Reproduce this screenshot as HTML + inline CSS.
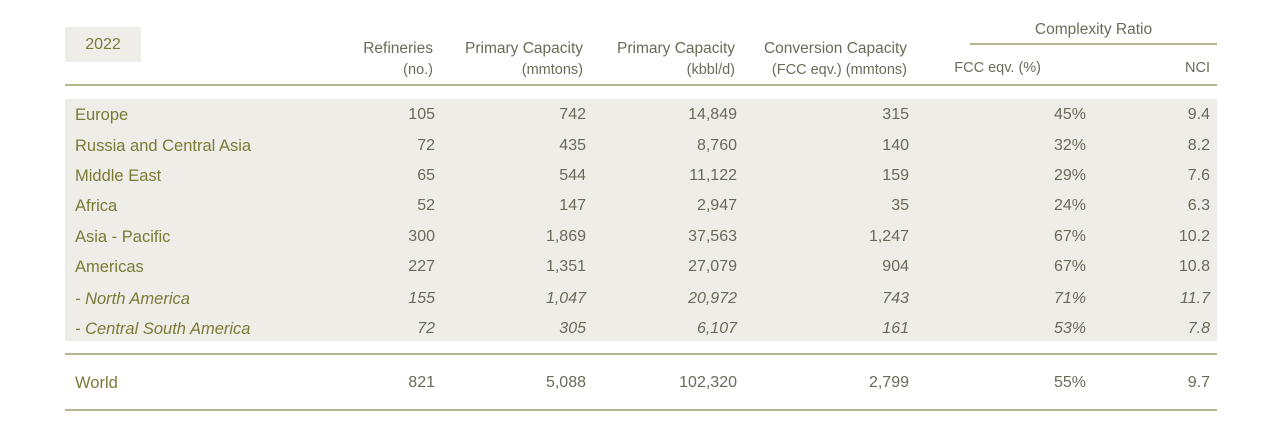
<!DOCTYPE html>
<html><head><meta charset="utf-8">
<style>
body{margin:0;width:1267px;height:421px;background:#fff;position:relative;overflow:hidden;font-family:"Liberation Sans Narrow","Liberation Sans",sans-serif;}
.a{position:absolute;white-space:nowrap;}
.h{color:#6b6b5a;font-size:15.5px;text-align:right;line-height:18px}
.s{color:#6b6b5a;font-size:14.5px;text-align:right;line-height:16px}
.lbl{color:#7b7a35;font-size:16.5px;line-height:20px}
.num{color:#6a6a5a;font-size:16px;line-height:20px;text-align:right}
.it{font-style:italic}
.line{position:absolute;height:2px;background:#b5b68e}
</style></head><body>
<div class="a" style="left:65px;top:27px;width:76px;height:35px;background:#efede8;color:#7b7a35;font-size:16px;line-height:35px;text-align:center">2022</div>
<div class="line" style="left:970px;top:43px;width:247px"></div>
<div class="a h" style="left:970px;top:21px;width:247px;text-align:center">Complexity Ratio</div>
<div id="hdr"></div>
<div class="line" style="left:65px;top:84px;width:1152px"></div>
<div class="a" style="left:65px;top:99px;width:1152px;height:242px;background:#efede8"></div>
<div class="line" style="left:65px;top:353px;width:1152px"></div>
<div class="line" style="left:65px;top:409px;width:1152px"></div>
<div id="rows"></div>
<script>
const regions=["Europe","Russia and Central Asia","Middle East","Africa","Asia - Pacific","Americas","- North America","- Central South America","World"];
const refineries=["105","72","65","52","300","227","155","72","821"];
const primaryMt=["742","435","544","147","1,869","1,351","1,047","305","5,088"];
const primaryKb=["14,849","8,760","11,122","2,947","37,563","27,079","20,972","6,107","102,320"];
const conversion=["315","140","159","35","1,247","904","743","161","2,799"];
const fccPct=["45%","32%","29%","24%","67%","67%","71%","53%","55%"];
const nci=["9.4","8.2","7.6","6.3","10.2","10.8","11.7","7.8","9.7"];
const rowY=[115,146,176,206,237,267,299,329,383];
const cols=[[435,refineries],[586,primaryMt],[737,primaryKb],[909,conversion],[1086,fccPct],[1210,nci]];
const headers=[["Refineries","(no.)",433],["Primary Capacity","(mmtons)",583],["Primary Capacity","(kbbl/d)",735],["Conversion Capacity","(FCC eqv.) (mmtons)",907]];
const H=document.getElementById('hdr');
headers.forEach(h=>{
 const d=document.createElement('div');d.className='a h';d.style.right=(1267-h[2])+'px';d.style.top='40px';d.textContent=h[0];
 
 
 H.appendChild(d);
 const e=document.createElement('div');e.className='a s';e.style.right=(1267-h[2])+'px';e.style.top='62px';e.textContent=h[1];
 
 
 H.appendChild(e);
});
[["FCC eqv. (%)",1041],["NCI",1210]].forEach(h=>{
 const e=document.createElement('div');e.className='a s';e.style.right=(1267-h[1])+'px';e.style.top='60px';e.textContent=h[0];
 
 
 H.appendChild(e);
});
const R=document.getElementById('rows');
regions.forEach((r,i)=>{
 const it=(i==6||i==7)?' it':'';
 const l=document.createElement('div');l.className='a lbl'+it;l.style.left='75px';l.style.top=(rowY[i]-10)+'px';l.textContent=r;
 
 
 R.appendChild(l);
 cols.forEach(c=>{
  const v=document.createElement('div');v.className='a num'+it;v.style.right=(1267-c[0])+'px';v.style.top=(rowY[i]-10)+'px';v.textContent=c[1][i];
  
  
  R.appendChild(v);
 });
});
</script>
</body></html>
